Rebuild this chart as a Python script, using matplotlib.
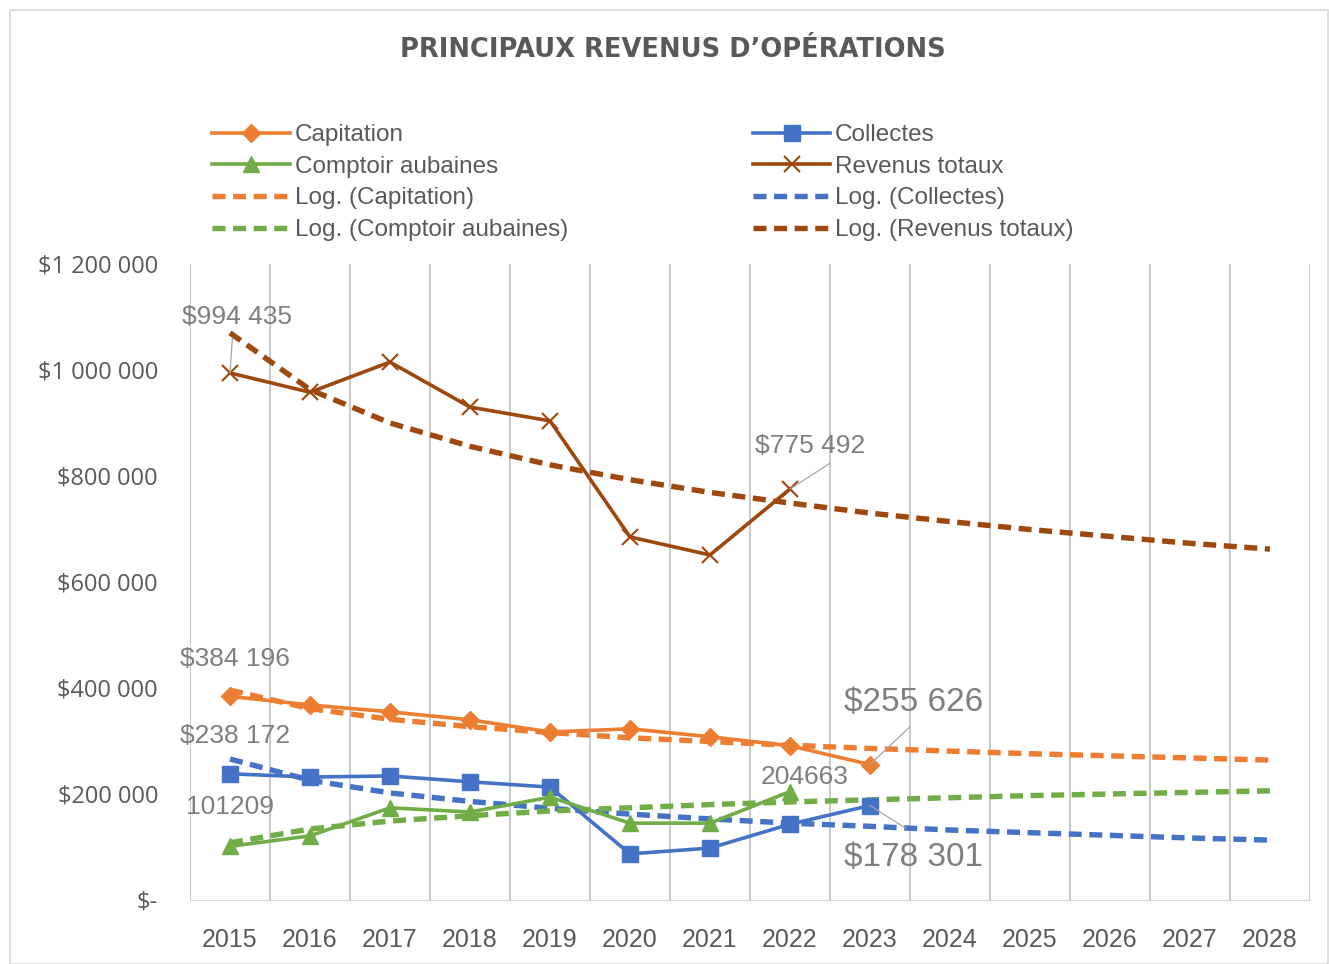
import numpy as np
import matplotlib
matplotlib.use("Agg")
import matplotlib.pyplot as plt
from matplotlib.ticker import FuncFormatter, FixedLocator
from matplotlib.patches import Rectangle

# data
years = ['2015', '2016', '2017', '2018', '2019', '2020', '2021', '2022', '2023',
         '2024', '2025', '2026', '2027', '2028']
capitation = [384196, 368000, 355000, 340000, 317000, 323000, 308000, 291000, 255626]
collectes = [238172, 232000, 234000, 223000, 213000, 87000, 98000, 143000, 178301]
comptoir = [101209, 121000, 174000, 166000, 194000, 145000, 145000, 204663]
totaux = [994435, 958000, 1015000, 930000, 904000, 685000, 651000, 775492]

# log trendlines (Excel forecast)
tr_capitation = [396000, 361000, 341000, 327000, 316000, 306000, 299000, 292000,
                 286000, 281000, 276000, 272000, 268000, 264000]
tr_collectes = [266000, 226000, 202000, 186000, 173000, 162000, 153000, 145000,
                139000, 132000, 127000, 122000, 117000, 113000]
tr_comptoir = [108000, 134000, 149000, 159000, 168000, 174000, 180000, 185000,
               189000, 193000, 197000, 200000, 203000, 206000]
tr_totaux = [1070000, 963000, 900000, 856000, 821000, 793000, 769000, 749000,
             730000, 714000, 699000, 686000, 673000, 662000]

c_cap = '#ED7D31'
c_col = '#4472C4'
c_com = '#70AD47'
c_tot = '#9E480E'
grey = '#595959'
lab = '#7F7F7F'

plt.rcParams['font.family'] = ['Open Sans', 'DejaVu Sans']

fig = plt.figure(figsize=(13.29, 9.64), dpi=100)
ax = fig.add_axes([190/1329, 1-900/964, 1120/1329, 636/964])

x = np.arange(len(years))
lw = 2.6
tw = 3.9
dash = (2.4, 1.4)

l1, = ax.plot(x[:len(capitation)], capitation, color=c_cap, lw=lw, marker='D', ms=9, zorder=5, label='Capitation')
l2, = ax.plot(x[:len(collectes)], collectes, color=c_col, lw=lw, marker='s', ms=11, zorder=5, label='Collectes')
l3, = ax.plot(x[:len(comptoir)], comptoir, color=c_com, lw=lw, marker='^', ms=11, zorder=5, label='Comptoir aubaines')
l4, = ax.plot(x[:len(totaux)], totaux, color=c_tot, lw=lw, marker='x', ms=11, mew=1.5, zorder=5, label='Revenus totaux')

t1, = ax.plot(x, tr_capitation, color=c_cap, lw=tw, ls=(0, dash), zorder=4, label='Log. (Capitation)')
t2, = ax.plot(x, tr_collectes, color=c_col, lw=tw, ls=(0, dash), zorder=4, label='Log. (Collectes)')
t3, = ax.plot(x, tr_comptoir, color=c_com, lw=tw, ls=(0, dash), zorder=4, label='Log. (Comptoir aubaines)')
t4, = ax.plot(x, tr_totaux, color=c_tot, lw=tw, ls=(0, dash), zorder=4, label='Log. (Revenus totaux)')

ax.set_xlim(-0.5, 13.5)
ax.set_ylim(0, 1200000)
ax.set_xticks(x)
ax.set_xticklabels(years)
ax.set_yticks(np.arange(0, 1200001, 200000))

def money(v, pos):
    if v == 0:
        return '$-'
    return '$' + format(int(v), ',').replace(',', ' ')

ax.yaxis.set_major_formatter(FuncFormatter(money))
ax.tick_params(axis='both', which='both', length=0, colors=grey)
ax.tick_params(axis='y', labelsize=17, pad=23)
ax.tick_params(axis='x', labelsize=18, pad=20)
for t in ax.get_xticklabels():
    t.set_family(['Liberation Sans', 'DejaVu Sans'])

ax.xaxis.set_minor_locator(FixedLocator(np.arange(-0.5, 14, 1)))
ax.grid(True, which='minor', axis='x', color='#BFBFBF', lw=1.2)
ax.grid(False, which='major')
for s in ['top', 'right', 'left']:
    ax.spines[s].set_visible(False)
ax.spines['bottom'].set_color('#D9D9D9')

# data labels
lf = dict(color=lab, fontsize=19, family=['Liberation Sans', 'DejaVu Sans'], ha='center', va='center')
ax.text(0.09, 1100000, '$994 435', **lf)
ax.text(7.25, 857000, '$775 492', **lf)
ax.text(0.06, 455000, '$384 196', **lf)
ax.text(0.06, 310000, '$238 172', **lf)
ax.text(0.0, 176000, '101209', **lf)
ax.text(7.18, 233000, '204663', **lf)
big = dict(lf, fontsize=24)
ax.text(8.54, 372000, '$255 626', **big)
ax.text(8.54, 80000, '$178 301', **big)
lc = '#A6A6A6'
ax.plot([0.03, 0.0], [1060000, 994435], color=lc, lw=0.9, zorder=6)
ax.plot([7.5, 7.0], [824000, 775492], color=lc, lw=0.9, zorder=6)
ax.plot([8.5, 8.0], [327000, 255626], color=lc, lw=0.9, zorder=6)
ax.plot([8.0, 8.45], [178301, 135000], color=lc, lw=0.9, zorder=6)

fig.text(0.506, 1-50/964, 'PRINCIPAUX REVENUS D\u2019OP\u00c9RATIONS', ha='center', va='center',
         fontsize=18.5, fontweight='bold', color=grey, family=['DejaVu Sans'])

# legend is filled row by row in the reference
handles = [l1, l3, t1, t3, l2, l4, t2, t4]
leg = fig.legend(handles=handles, ncol=2, loc='upper left', bbox_to_anchor=(212/1329, 1-124/964),
                 frameon=False, fontsize=17.5, handlelength=3.2, handletextpad=0.2,
                 columnspacing=7.6, labelspacing=0.40, borderaxespad=0, borderpad=0)
for t in leg.get_texts():
    t.set_color(grey)
    t.set_family(['Liberation Sans', 'DejaVu Sans'])

fig.patches.append(Rectangle((10/1329, 0), 1 - 10/1329 - 0.0005, 1 - 10/964, transform=fig.transFigure,
                             fill=False, edgecolor='#D9D9D9', lw=1.2))

fig.savefig('out.png', dpi=100)
